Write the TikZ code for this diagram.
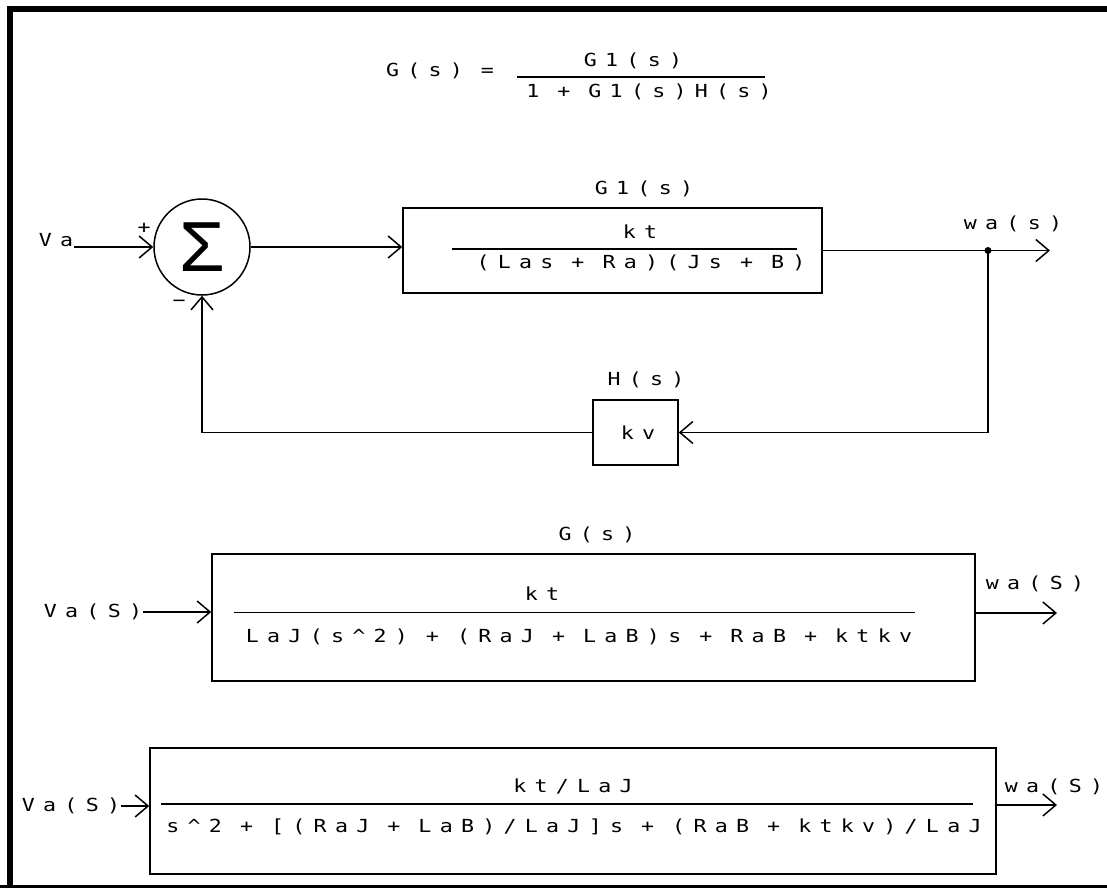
\documentclass[tikz,border=0pt]{standalone}
\usepackage{fontspec}
\newfontfamily\plotter{DejaVu Sans Mono}[FakeStretch=1.2,LetterSpace=46,WordSpace=0.85]
\newfontfamily\sigmafont{Liberation Mono}
\newcommand\plotfont{\plotter\fontsize{18}{22}\selectfont}
\usetikzlibrary{arrows.meta}

\begin{document}
\begin{tikzpicture}[x=1pt, y=-1pt, line width=1.5pt, >={Straight Barb[length=13pt,width=22pt]},
	txt/.style={font=\plotfont, inner sep=0pt, xshift=4pt},
	blk/.style={draw, rectangle, inner sep=0pt}]
	\useasboundingbox (0,0) rectangle (1107,888);
	\draw[line width=6pt] (9.7,888) -- (9.7,9) -- (1107,9);
	\draw[line width=3pt] (0,886.5) -- (1107,886.5);
	% closed loop formula
	\node[txt] (gdef) at (436,71) {G(s) =};
	\node[txt] (gnum) at (629,61) {G1(s)};
	\node[txt] (gden) at (645,92) {1 + G1(s)H(s)};
	\draw (517,77) -- (765,77);
	% loop
	\node[draw, circle, minimum size=96pt, inner sep=0pt, font=\sigmafont\fontsize{74}{74}\selectfont] (sum) at (202,247) {Σ};
	\node[txt] (va) at (52,240) {Va};
	\node[txt] (plus) at (140,228) {+};
	\node[txt] (minus) at (175,303) {−};
	\node[txt] (g1name) at (640,189) {G1(s)};
	\node[blk, minimum width=419pt, minimum height=85pt] (g1) at (612.5,250.5) {};
	\node[txt] (g1num) at (636,232) {kt};
	\node[txt] (g1den) at (637,263) {(Las + Ra)(Js + B)};
	\draw (452,249) -- (797,249);
	\coordinate (split) at (988,250.5);
	\coordinate (g1out) at (1050,250.5);
	\node[txt] (wa) at (1009,224) {wa(s)};
	\node[txt] (hname) at (642,380) {H(s)};
	\node[blk, minimum width=85pt, minimum height=65pt] (h) at (635.5,432.5) {};
	\node[txt] (kv) at (634,433) {kv};
	\draw[->] (va.east |- sum) -- (sum.west);
	\draw[->] (sum.east) -- (sum.east -| g1.west);
	\draw[->] (g1.east) -- (g1out);
	\fill (split) circle[radius=3.5pt];
	\draw[->] (split) |- (h.east);
	\draw[->] (h.west) -| (sum.south);
	% G(s)
	\node[txt] (gname) at (593,535) {G(s)};
	\node[blk, minimum width=763pt, minimum height=127pt] (gs) at (593.5,617.5) {};
	\node[txt] (gsnum) at (538,594) {kt};
	\draw (234,612.5) -- (915,612.5);
	\node[txt] (gsden) at (575,637) {LaJ(s\textasciicircum 2) + (RaJ + LaB)s + RaB + ktkv};
	\node[txt] (vas1) at (89,612) {Va(S)};
	\coordinate (gsout) at (1057,613);
	\node[txt] (was1) at (1031,584) {wa(S)};
	\draw[->] (vas1.east) -- (vas1.east -| gs.west);
	\draw[->] (gs.east |- gsout) -- (gsout);
	% normalised
	\node[blk, minimum width=846pt, minimum height=126pt] (gn) at (573,811) {};
	\node[txt] (gnnum) at (569,786) {kt/LaJ};
	\draw (161,804) -- (973,804);
	\node[txt] (gnden) at (570,827) {s\textasciicircum 2 + [(RaJ + LaB)/LaJ]s + (RaB + ktkv)/LaJ};
	\node[txt] (vas2) at (67,806) {Va(S)};
	\coordinate (gnout) at (1057,805);
	\node[txt] (was2) at (1050,787) {wa(S)};
	\draw[->] (vas2.east) -- (vas2.east -| gn.west);
	\draw[->] (gn.east |- gnout) -- (gnout);
\end{tikzpicture}
\end{document}
